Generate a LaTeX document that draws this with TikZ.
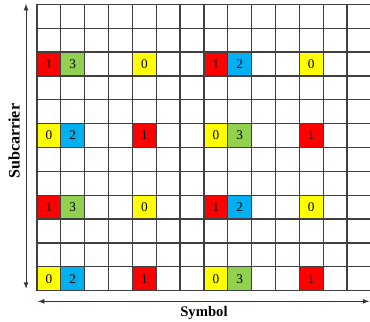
\documentclass[tikz,border=0pt]{standalone}
\usepackage{fontspec}
\setmainfont{Liberation Serif}
\usepackage{tikz}

\definecolor{pilotred}{HTML}{FF0000}
\definecolor{pilotgreen}{HTML}{92D050}
\definecolor{pilotblue}{HTML}{00B0F0}
\definecolor{pilotyellow}{HTML}{FFFF00}

\begin{document}
\begin{tikzpicture}[x=0.6cm, y=0.6cm, font=\fontsize{9.5}{11}\selectfont,
		gridline/.style={black!75, line width=0.9pt},
		cellbox/.style={draw=black!75, line width=0.9pt, minimum size=0.6cm, inner sep=0pt},
		axisarrow/.style={latex-latex, line width=0.6pt, black!80},
		axislabel/.style={font=\fontsize{10.5}{12}\selectfont\bfseries}]
		\useasboundingbox (-1.551, -1.303) rectangle (13.962, 12.185);
		% Resource grid: 14 symbols by 12 subcarriers.
		\foreach \i in {0, ..., 14} {
			\draw[gridline] (\i, 0) -- (\i, 12);
		}
		\foreach \j in {0, ..., 12} {
			\draw[gridline] (0, \j) -- (14, \j);
		}
		% Pilot cells, first pattern.
		\foreach \r in {9, 3} {
			\foreach \c/\clr/\num in {0/pilotred/1, 1/pilotgreen/3, 4/pilotyellow/0,
					7/pilotred/1, 8/pilotblue/2, 11/pilotyellow/0} {
				\node[cellbox, fill=\clr] (p-\r-\c) at (\c + 0.5, \r + 0.5) {\num};
			}
		}
		% Pilot cells, second pattern.
		\foreach \r in {6, 0} {
			\foreach \c/\clr/\num in {0/pilotyellow/0, 1/pilotblue/2, 4/pilotred/1,
					7/pilotyellow/0, 8/pilotgreen/3, 11/pilotred/1} {
				\node[cellbox, fill=\clr] (p-\r-\c) at (\c + 0.5, \r + 0.5) {\num};
			}
		}
		% Axes.
		\coordinate (sc-top) at (-0.46, 12.02);
		\coordinate (sc-bot) at (-0.46, 0.08);
		\draw[axisarrow] (sc-top) -- (sc-bot);
		\node[axislabel, font=\fontsize{11.5}{13}\selectfont\bfseries, rotate=90] (subcarrier)
			at (-0.96, 6.26) {Subcarrier};
		\coordinate (sy-left) at (0.04, -0.45);
		\coordinate (sy-right) at (13.93, -0.45);
		\draw[axisarrow] (sy-left) -- (sy-right);
		\node[axislabel] (symbol) at (7.0, -0.95) {Symbol};
	\end{tikzpicture}
\end{document}
